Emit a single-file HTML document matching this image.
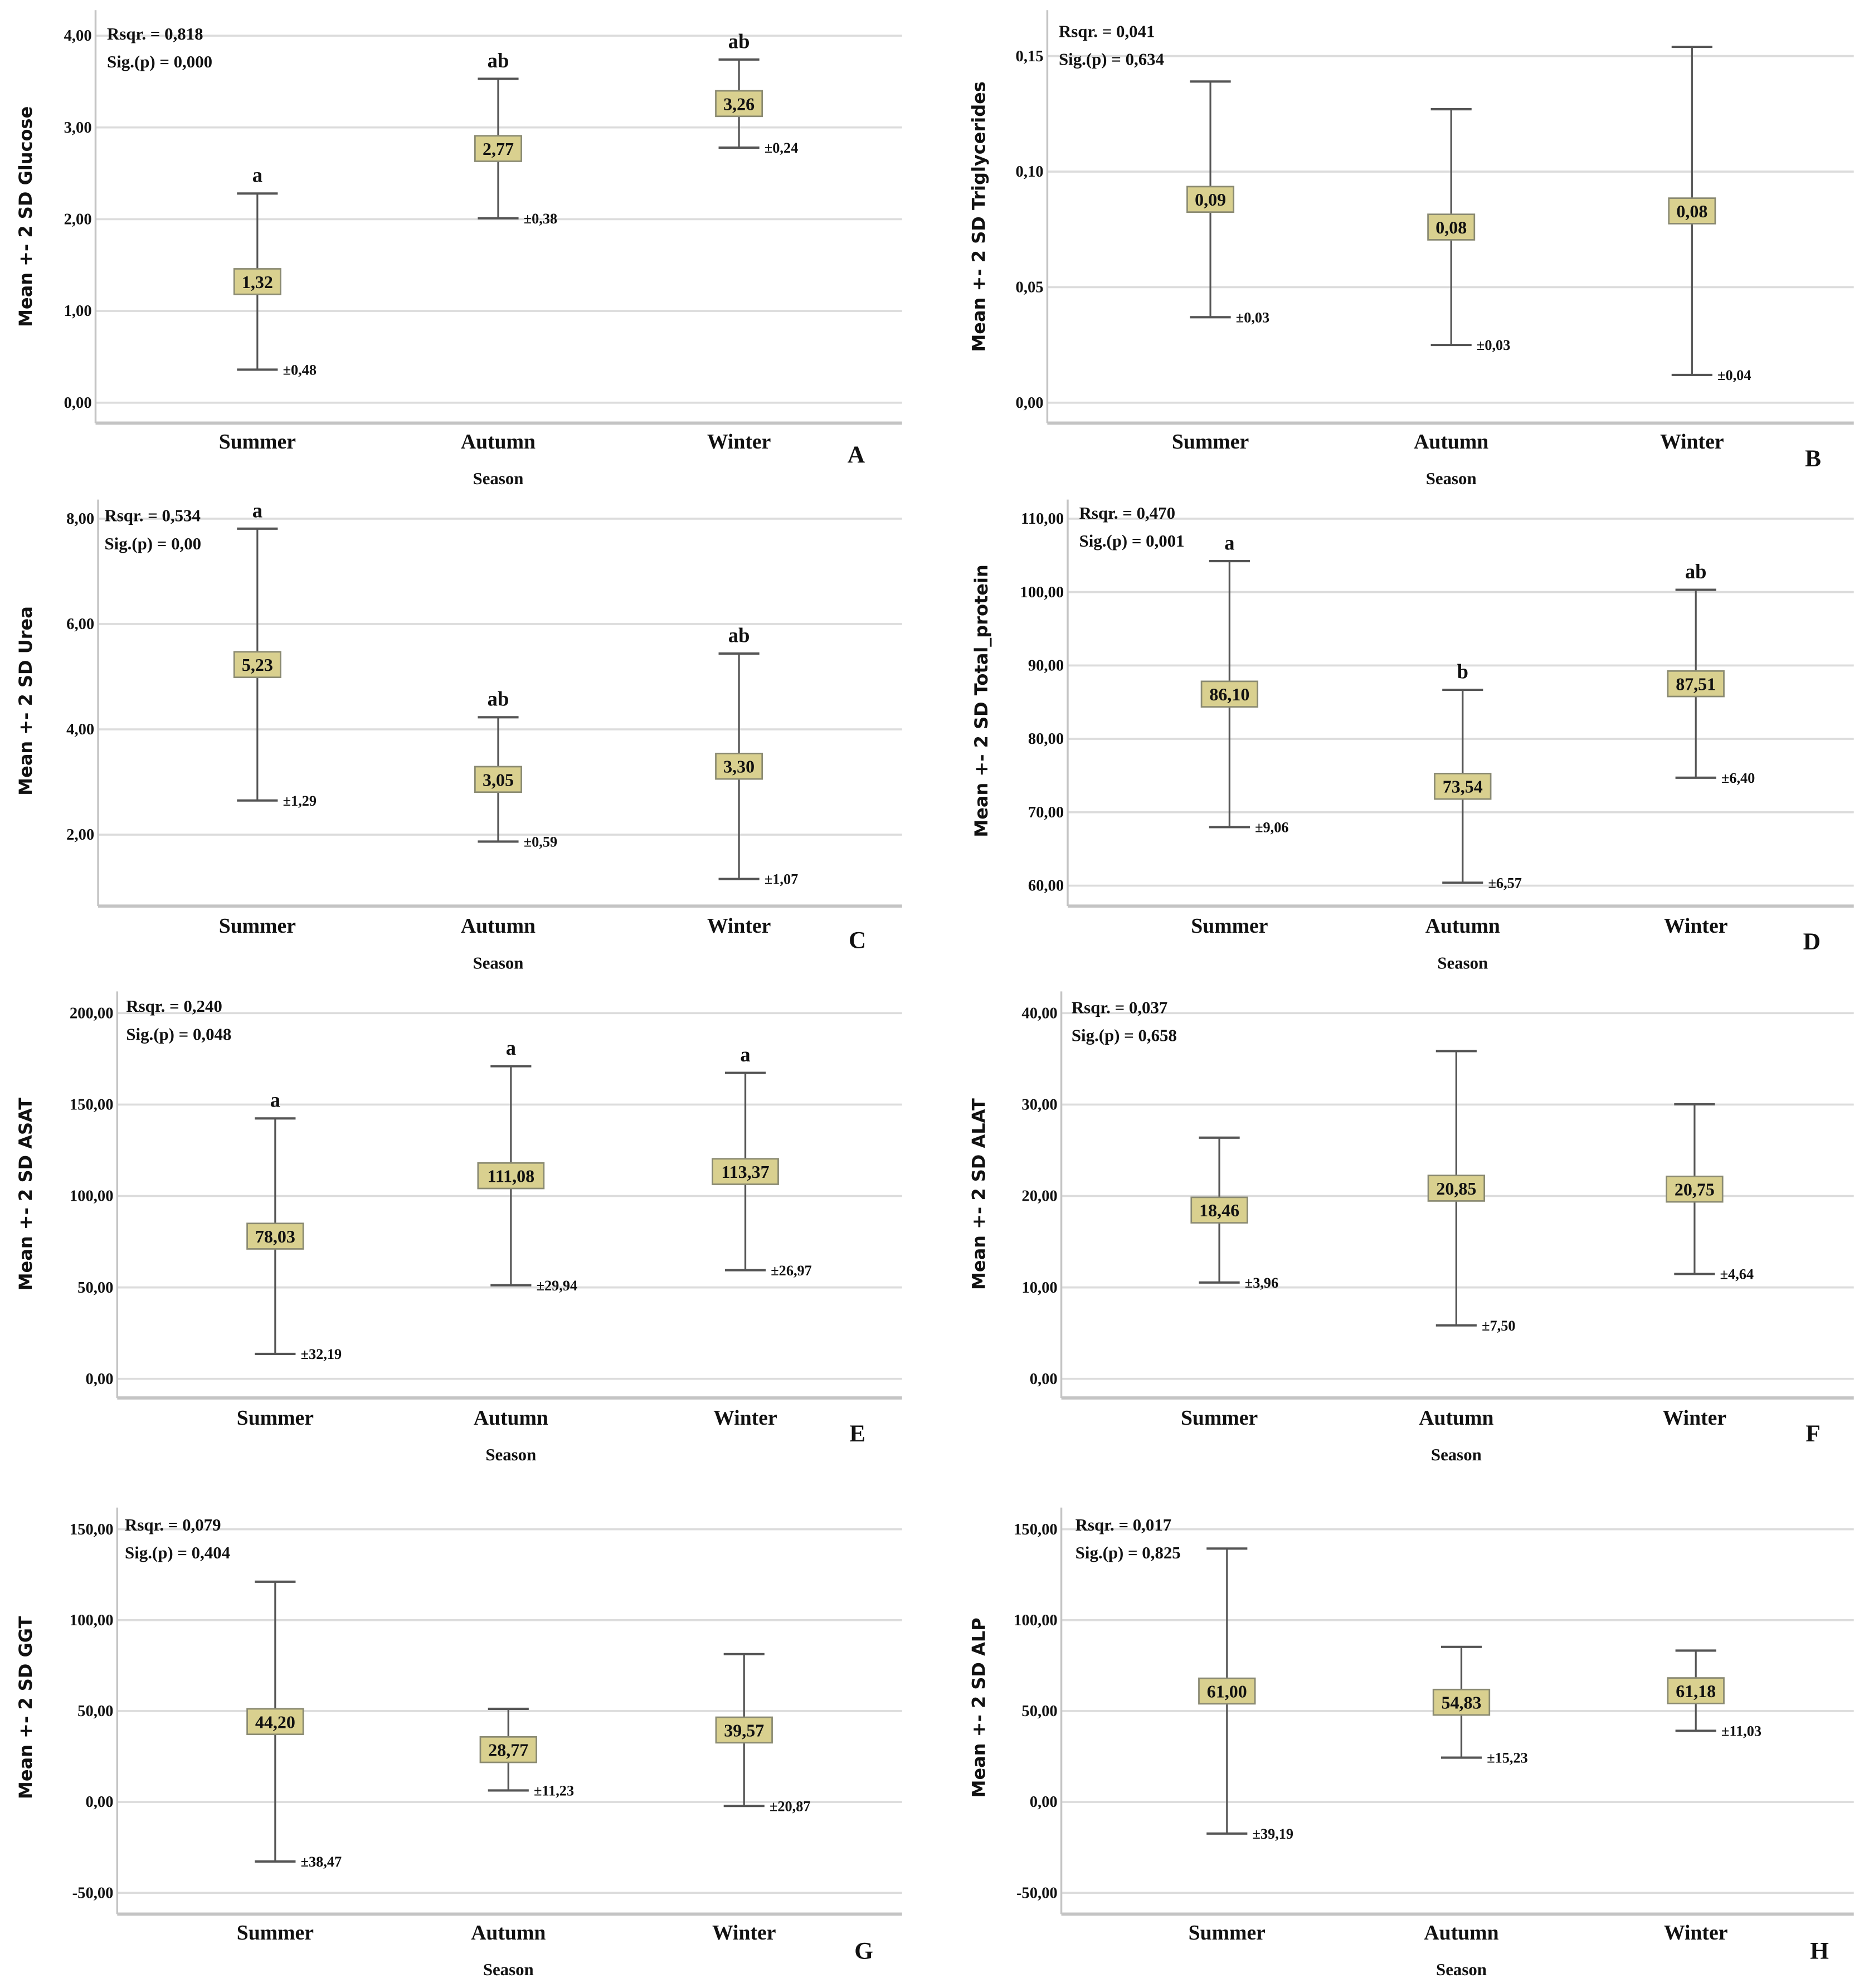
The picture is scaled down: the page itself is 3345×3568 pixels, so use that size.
<!DOCTYPE html>
<html><head><meta charset="utf-8"><style>
html,body{margin:0;padding:0;background:#fff;}
svg{display:block;}
text{font-family:"Liberation Serif",serif;font-weight:bold;fill:#111;}
.yt{font-family:"DejaVu Sans","Liberation Sans",sans-serif;font-size:14px;}
</style></head><body>
<svg id="fig" width="3345" height="3568" viewBox="0 0 1463 1560" preserveAspectRatio="none" xmlns="http://www.w3.org/2000/svg"></svg>
<script>
const seasons = ["Summer","Autumn","Winter"];
const glucoseMeans = [1.32,2.77,3.26];
const glucoseSds = [0.48,0.38,0.24];
const glucoseLetters = ["a","ab","ab"];
const glucoseTicks = [0,1,2,3,4];
const trigMeans = [0.088,0.076,0.083];
const trigSds = [0.0255,0.0255,0.0355];
const trigLetters = ["","",""];
const trigTicks = [0,0.05,0.10,0.15];
const ureaMeans = [5.23,3.05,3.30];
const ureaSds = [1.29,0.59,1.07];
const ureaLetters = ["a","ab","ab"];
const ureaTicks = [2,4,6,8];
const proteinMeans = [86.10,73.54,87.51];
const proteinSds = [9.06,6.57,6.40];
const proteinLetters = ["a","b","ab"];
const proteinTicks = [60,70,80,90,100,110];
const asatMeans = [78.03,111.08,113.37];
const asatSds = [32.19,29.94,26.97];
const asatLetters = ["a","a","a"];
const asatTicks = [0,50,100,150,200];
const alatMeans = [18.46,20.85,20.75];
const alatSds = [3.96,7.50,4.64];
const alatLetters = ["","",""];
const alatTicks = [0,10,20,30,40];
const ggtMeans = [44.20,28.77,39.57];
const ggtSds = [38.47,11.23,20.87];
const ggtLetters = ["","",""];
const ggtTicks = [-50,0,50,100,150];
const alpMeans = [61.00,54.83,61.18];
const alpSds = [39.19,15.23,11.03];
const alpLetters = ["","",""];
const alpTicks = [-50,0,50,100,150];
const stats = [["0,818","0,000"],["0,041","0,634"],["0,534","0,00"],["0,470","0,001"],["0,240","0,048"],["0,037","0,658"],["0,079","0,404"],["0,017","0,825"]];

const svg = document.getElementById('fig');
const NS = "http://www.w3.org/2000/svg";
function mk(tag, attrs, parent, txt){
  const e = document.createElementNS(NS, tag);
  for (const k in attrs) e.setAttribute(k, attrs[k]);
  if (txt !== undefined) e.textContent = txt;
  parent.appendChild(e);
  return e;
}
function fmt(v,d){ return v.toFixed(d).replace('.',','); }

const panels = [
 {id:"A",title:"Glucose",means:glucoseMeans,sds:glucoseSds,letters:glucoseLetters,ticks:glucoseTicks,dec:2,left:75,right:708,bottom:332,top:8,v0:0,y0:316,v1:4,y1:28,cx:[202,391,580],tx:84,ty:27,ytx:20,yty:170,lx:672,ly:356,cly:346,sy:375,td:2},
 {id:"B",title:"Triglycerides",means:trigMeans,sds:trigSds,letters:trigLetters,ticks:trigTicks,dec:2,left:822,right:1455,bottom:332,top:8,v0:0,y0:316,v1:0.15,y1:44,cx:[950,1139,1328],tx:831,ty:25,ytx:768,yty:170,lx:1423,ly:359,cly:346,sy:375,td:2},
 {id:"C",title:"Urea",means:ureaMeans,sds:ureaSds,letters:ureaLetters,ticks:ureaTicks,dec:2,left:77,right:708,bottom:711,top:392,v0:2,y0:655,v1:8,y1:407,cx:[202,391,580],tx:82,ty:405,ytx:20,yty:550,lx:673,ly:737,cly:726,sy:755,td:2},
 {id:"D",title:"Total_protein",means:proteinMeans,sds:proteinSds,letters:proteinLetters,ticks:proteinTicks,dec:2,left:838,right:1455,bottom:711,top:392,v0:60,y0:695,v1:110,y1:407,cx:[965,1148,1331],tx:847,ty:403,ytx:770,yty:550,lx:1422,ly:738,cly:726,sy:755,td:2},
 {id:"E",title:"ASAT",means:asatMeans,sds:asatSds,letters:asatLetters,ticks:asatTicks,dec:2,left:92,right:708,bottom:1097,top:778,v0:0,y0:1082,v1:200,y1:795,cx:[216,401,585],tx:99,ty:790,ytx:20,yty:937,lx:673,ly:1124,cly:1112,sy:1141,td:2},
 {id:"F",title:"ALAT",means:alatMeans,sds:alatSds,letters:alatLetters,ticks:alatTicks,dec:2,left:833,right:1455,bottom:1097,top:778,v0:0,y0:1082,v1:40,y1:795,cx:[957,1143,1330],tx:841,ty:791,ytx:768,yty:937,lx:1423,ly:1124,cly:1112,sy:1141,td:2},
 {id:"G",title:"GGT",means:ggtMeans,sds:ggtSds,letters:ggtLetters,ticks:ggtTicks,dec:2,left:92,right:708,bottom:1502,top:1183,v0:0,y0:1414,v1:150,y1:1200,cx:[216,399,584],tx:98,ty:1197,ytx:20,yty:1340,lx:678,ly:1530,cly:1516,sy:1545,td:2},
 {id:"H",title:"ALP",means:alpMeans,sds:alpSds,letters:alpLetters,ticks:alpTicks,dec:2,left:833,right:1455,bottom:1502,top:1183,v0:0,y0:1414,v1:150,y1:1200,cx:[963,1147,1331],tx:844,ty:1197,ytx:768,yty:1340,lx:1428,ly:1530,cly:1516,sy:1545,td:2}
];

panels.forEach((p,pi)=>{
  const g = mk('g',{},svg);
  
  
  const y = v => p.y0 + (v - p.v0)*(p.y1 - p.y0)/(p.v1 - p.v0);
  p.ticks.forEach(t=>{
    const gl = mk('line',{x1:p.left,x2:p.right,y1:y(t),y2:y(t),stroke:'#dcdcdc','stroke-width':1.6},g);
    
    
    const tl = mk('text',{x:p.left-3,y:y(t)+4,'text-anchor':'end','font-size':12.5},g,fmt(t,p.td));
    
    
  });
  const ya = mk('line',{x1:p.left,x2:p.left,y1:p.top,y2:p.bottom,stroke:'#c4c4c4','stroke-width':1.5},g);
  
  
  const xa = mk('line',{x1:p.left,x2:p.right,y1:p.bottom,y2:p.bottom,stroke:'#c4c4c4','stroke-width':2.5},g);
  
  
  const yt = mk('text',{x:p.ytx,y:p.yty,'text-anchor':'middle','class':'yt',transform:'rotate(-90 '+(p.ytx)+' '+p.yty+')',dy:5},g,'Mean +- 2 SD '+p.title);
  
  
  const s1 = mk('text',{x:p.tx,y:p.ty+4,'font-size':13.5},g,'Rsqr. = '+stats[pi][0]);
  
  
  const s2 = mk('text',{x:p.tx,y:p.ty+26,'font-size':13.5},g,'Sig.(p) = '+stats[pi][1]);
  
  
  seasons.forEach((s,i)=>{
    const c = mk('text',{x:p.cx[i],y:p.cly+6,'text-anchor':'middle','font-size':16.5},g,s);
    
    
  });
  const st = mk('text',{x:p.cx[1],y:p.sy+5,'text-anchor':'middle','font-size':13.5},g,'Season');
  
  
  const pl = mk('text',{x:p.lx,y:p.ly+7,'text-anchor':'middle','font-size':19},g,p.id);
  
  
  p.means.forEach((m,i)=>{
    const cx = p.cx[i];
    const hi = m + 2*p.sds[i], lo = m - 2*p.sds[i];
    const eg = mk('g',{},g);
    
    
    mk('line',{x1:cx,x2:cx,y1:y(hi),y2:y(lo),stroke:'#555','stroke-width':1.4},eg);
    mk('line',{x1:cx-16,x2:cx+16,y1:y(hi),y2:y(hi),stroke:'#555','stroke-width':1.8},eg);
    mk('line',{x1:cx-16,x2:cx+16,y1:y(lo),y2:y(lo),stroke:'#555','stroke-width':1.8},eg);
    const lbl = fmt(m,p.dec);
    const w = lbl.length*7.6+6;
    const box = mk('rect',{x:cx-w/2,y:y(m)-10,width:w,height:20,fill:'#d9d08f',stroke:'#8a8a72','stroke-width':1.2},eg);
    
    
    const mt = mk('text',{x:cx,y:y(m)+5,'text-anchor':'middle','font-size':14},eg,lbl);
    
    
    const sl = mk('text',{x:cx+20,y:y(lo)+4,'font-size':11.5},eg,'\u00b1'+fmt(p.sds[i],2));
    
    
    if (p.letters[i]) {
      const lt = mk('text',{x:cx,y:y(hi)-9,'text-anchor':'middle','font-size':16},eg,p.letters[i]);
      
      
    }
  });
});
</script>
</body></html>
